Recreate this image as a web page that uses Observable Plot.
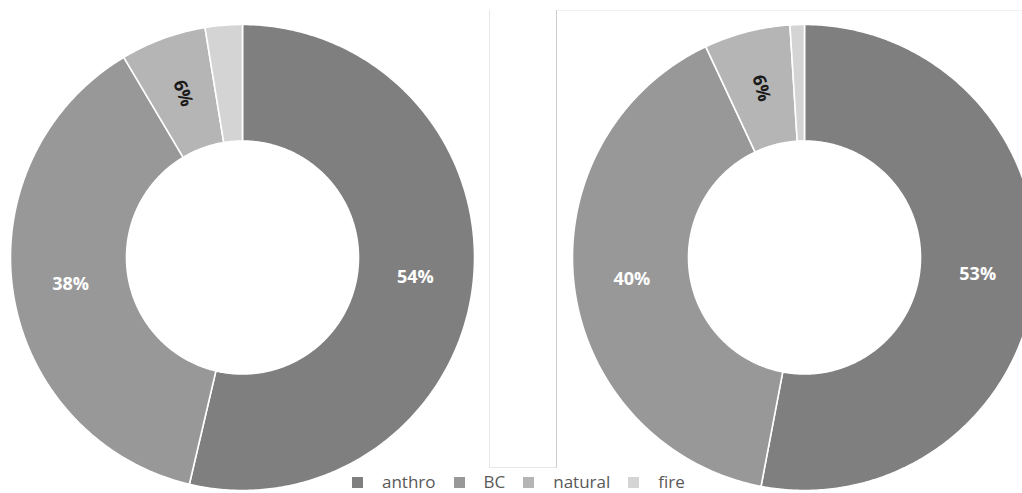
<!DOCTYPE html>
<html>
<head>
<meta charset="utf-8">
<script src="https://cdn.jsdelivr.net/npm/d3@7"></script>
<script src="https://cdn.jsdelivr.net/npm/@observablehq/plot@0.6"></script>
<style>
  html, body { margin: 0; padding: 0; background: #fff; overflow: hidden; }
  #wrap { position: relative; width: 1022px; height: 493px; overflow: hidden; background: #fff; }
  #wrap > .pane { position: absolute; top: 0; }
  #box { position: absolute; left: 489px; top: 10px; width: 66px; height: 457px;
         border: 1px solid #e6e6e6; border-top: none; border-right-color: #cdcdcd; box-sizing: content-box; }
  #rule { position: absolute; left: 557px; top: 10px; width: 465px; height: 0; border-top: 1px solid #f1f1f1; }
  #key { position: absolute; left: 352px; top: 474px; line-height: 16px; }
  #key .key-swatches-wrap { min-height: 0 !important; margin: 0 !important; line-height: 16px; }
  #key .key-swatch { margin-right: 18px !important; }
  #key .key-swatch > svg { margin-right: 19px !important; }
</style>
</head>
<body>
<div id="wrap">
  <div id="box"></div>
  <div id="rule"></div>
</div>
<script>
// Emission sources and their shares for the two donuts
const sources = ["anthro", "BC", "natural", "fire"];
const leftShares = [54, 38, 6, 2.6];
const rightShares = [53, 40, 6, 1];
const palette = ["#7f7f7f", "#989898", "#b5b5b5", "#d4d4d4"];

const HOLE = 0.5;     // inner radius relative to outer
const LABEL_R = 0.75; // labels sit midway through the ring
const FONT = "'Open Sans', 'DejaVu Sans', sans-serif";

// Angular extent of each slice, clockwise from 12 o'clock
function slices(values) {
  const total = d3.sum(values);
  let acc = 0;
  return sources.map((source, i) => {
    const share = values[i] / total;
    const a0 = acc * 2 * Math.PI;
    acc += share;
    const a1 = acc * 2 * Math.PI;
    return {source, share, a0, a1, mid: (a0 + a1) / 2};
  });
}

// Closed outline of one ring segment, in unit-circle coordinates
function outline(s) {
  const n = Math.max(4, Math.ceil((s.a1 - s.a0) / 0.01));
  const pts = [];
  for (let k = 0; k <= n; k++) {
    const a = s.a0 + (s.a1 - s.a0) * k / n;
    pts.push({source: s.source, x: Math.sin(a), y: Math.cos(a)});
  }
  for (let k = n; k >= 0; k--) {
    const a = s.a0 + (s.a1 - s.a0) * k / n;
    pts.push({source: s.source, x: HOLE * Math.sin(a), y: HOLE * Math.cos(a)});
  }
  return pts;
}

function donut(values, {width, marginLeft, marginRight}) {
  const sl = slices(values);
  const ring = sl.flatMap(outline);
  const labelled = sl.filter(d => d.share >= 0.05);
  const pct = d => `${Math.round(d.share * 100)}%`;
  const lx = d => LABEL_R * Math.sin(d.mid);
  const ly = d => LABEL_R * Math.cos(d.mid);
  return Plot.plot({
    width,
    height: 493,
    marginLeft,
    marginRight,
    marginTop: 24,
    marginBottom: 3,
    x: {domain: [-1, 1], axis: null},
    y: {domain: [-1, 1], axis: null},
    color: {domain: sources, range: palette},
    style: {background: "transparent", overflow: "visible"},
    marks: [
      Plot.line(ring, {
        x: "x", y: "y", z: "source", fill: "source",
        stroke: "white", strokeWidth: 1.6, curve: "linear-closed"
      }),
      Plot.text(labelled.filter(d => d.share >= 0.2), {
        x: lx, y: ly, text: pct,
        fill: "white", fontSize: 18, fontWeight: "bold", fontFamily: FONT
      }),
      Plot.text(labelled.filter(d => d.share < 0.2), {
        x: lx, y: ly, text: pct,
        rotate: d => d.mid * 180 / Math.PI - 270,
        fill: "#1a1a1a", fontSize: 18, fontWeight: "bold", fontFamily: FONT
      })
    ]
  });
}

const wrap = document.getElementById("wrap");

const left = donut(leftShares, {width: 486, marginLeft: 10, marginRight: 12});
left.classList.add("pane");
left.style.left = "0px";
wrap.appendChild(left);

const right = donut(rightShares, {width: 480, marginLeft: 16, marginRight: 0});
right.classList.add("pane");
right.style.left = "556px";
wrap.appendChild(right);

const key = left.legend("color", {
  swatchSize: 11,
  className: "key",
  style: {fontFamily: FONT, fontSize: "17px", color: "#595959", lineHeight: "16px"}
});
const keyBox = document.createElement("div");
keyBox.id = "key";
keyBox.appendChild(key);
wrap.appendChild(keyBox);
</script>
</body>
</html>
